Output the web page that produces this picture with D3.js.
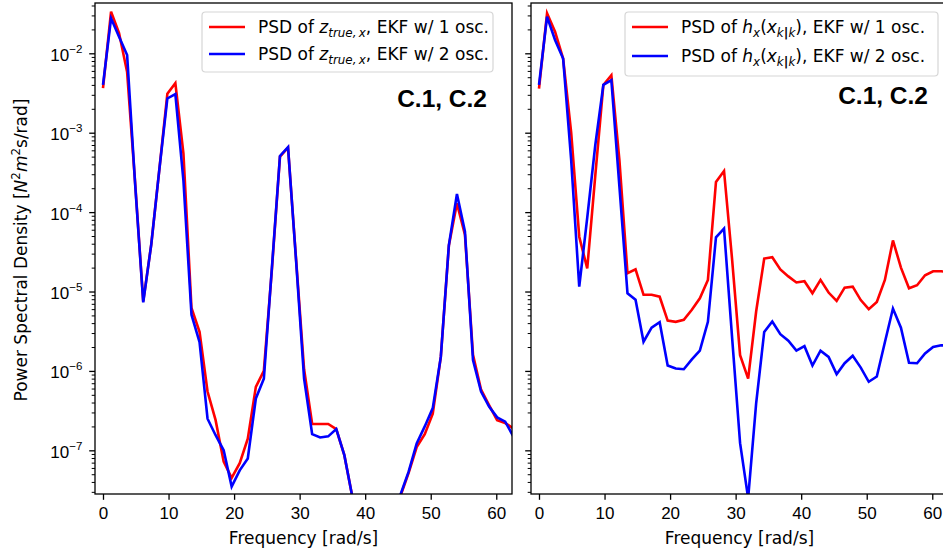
<!DOCTYPE html>
<html>
<head>
<meta charset="utf-8">
<script src="https://cdn.jsdelivr.net/npm/d3@7"></script>
<style>
  html, body { margin: 0; padding: 0; background: #fff; }
  svg { display: block; font-family: "DejaVu Sans", sans-serif; }
  text { fill: #000; }
</style>
</head>
<body>
<svg id="chart" width="943" height="556"></svg>
<script>
// Frequency grid of the Welch estimate [rad/s]
const freqs = [0, 1.23, 2.45, 3.68, 4.91, 6.14, 7.36, 8.59, 9.82, 11.04,
  12.27, 13.50, 14.73, 15.95, 17.18, 18.41, 19.63, 20.86, 22.09, 23.32,
  24.54, 25.77, 27.00, 28.23, 29.45, 30.68, 31.91, 33.13, 34.36, 35.59,
  36.82, 38.04, 39.27, 40.50, 41.72, 42.95, 44.18, 45.41, 46.63, 47.86,
  49.09, 50.31, 51.54, 52.77, 54.00, 55.22, 56.45, 57.68, 58.90, 60.13,
  61.36, 62.59];

// PSD of z_true,x — EKF with 1 oscillator
const zTrue1 = [3.65e-3, 3.34e-2, 1.8e-2, 5.8e-3, 2.3e-4, 7.5e-6, 3.9e-5, 3.4e-4, 3.1e-3, 4.2e-3,
  5.5e-4, 6.2e-6, 3.1e-6, 5.5e-7, 2.4e-7, 7.2e-8, 4.5e-8, 6.9e-8, 1.4e-7, 6.3e-7,
  1.0e-6, 1.9e-5, 5.0e-4, 6.5e-4, 2.6e-5, 1.05e-6, 2.15e-7, 2.15e-7, 2.15e-7, 1.85e-7,
  8.7e-8, 2.6e-8, 9e-9, 5e-9, 6e-9, 1.1e-8, 1.9e-8, 2.7e-8, 5.2e-8, 1.1e-7,
  1.6e-7, 2.9e-7, 1.5e-6, 3.8e-5, 1.29e-4, 5.2e-5, 1.6e-6, 5.8e-7, 3.7e-7, 2.4e-7,
  2.2e-7, 1.9e-7];

// PSD of z_true,x — EKF with 2 oscillators
const zTrue2 = [4.0e-3, 2.76e-2, 1.62e-2, 9.5e-3, 2.2e-4, 7.3e-6, 3.9e-5, 3.4e-4, 2.7e-3, 3.07e-3,
  2.5e-4, 5.1e-6, 2.3e-6, 2.5e-7, 1.55e-7, 1.0e-7, 3.5e-8, 5.6e-8, 7.9e-8, 4.5e-7,
  8.0e-7, 2.0e-5, 5.1e-4, 6.6e-4, 2.5e-5, 8.0e-7, 1.6e-7, 1.45e-7, 1.5e-7, 1.85e-7,
  8.7e-8, 2.6e-8, 8e-9, 5e-9, 6e-9, 1.0e-8, 1.8e-8, 2.8e-8, 5.4e-8, 1.22e-7,
  2.0e-7, 3.4e-7, 1.5e-6, 3.85e-5, 1.69e-4, 5.7e-5, 1.37e-6, 5.5e-7, 3.55e-7, 2.6e-7,
  2.3e-7, 1.5e-7];

// PSD of h_x(x_k|k) — EKF with 1 oscillator
const hx1 = [3.6e-3, 3.19e-2, 1.87e-2, 8.6e-3, 1.0e-3, 4.9e-5, 1.95e-5, 2.9e-4, 4.0e-3, 5.3e-3,
  4.5e-4, 1.7e-5, 1.9e-5, 9.1e-6, 9.1e-6, 8.6e-6, 4.3e-6, 4.15e-6, 4.4e-6, 5.9e-6,
  8.2e-6, 1.4e-5, 2.4e-4, 3.3e-4, 2.6e-5, 1.58e-6, 8.0e-7, 5.6e-6, 2.6e-5, 2.7e-5,
  1.9e-5, 1.55e-5, 1.3e-5, 1.35e-5, 9.5e-6, 1.4e-5, 9.7e-6, 7.6e-6, 1.12e-5, 1.15e-5,
  7.8e-6, 6.0e-6, 7.4e-6, 1.4e-5, 4.4e-5, 2.0e-5, 1.1e-5, 1.2e-5, 1.6e-5, 1.8e-5,
  1.8e-5, 1.75e-5];

// PSD of h_x(x_k|k) — EKF with 2 oscillators
const hx2 = [4.0e-3, 2.9e-2, 1.47e-2, 8.6e-3, 4.5e-4, 1.15e-5, 8.5e-5, 7.0e-4, 4.0e-3, 4.6e-3,
  2.1e-4, 9.5e-6, 7.9e-6, 2.33e-6, 3.5e-6, 4.1e-6, 1.17e-6, 1.07e-6, 1.05e-6, 1.4e-6,
  1.8e-6, 4.15e-6, 4.8e-5, 6.2e-5, 2.7e-6, 1.23e-7, 2.5e-8, 3.9e-7, 3.1e-6, 4.2e-6,
  2.9e-6, 2.4e-6, 1.8e-6, 2.05e-6, 1.17e-6, 1.8e-6, 1.5e-6, 9.1e-7, 1.25e-6, 1.55e-6,
  1.1e-6, 7.3e-7, 8.5e-7, 2.3e-6, 6.1e-6, 3.5e-6, 1.27e-6, 1.25e-6, 1.66e-6, 2.0e-6,
  2.1e-6, 2.1e-6];

const xTicks = [0, 10, 20, 30, 40, 50, 60];
const yDecades = [-7, -6, -5, -4, -3, -2];
const xDomain = [-1.22, 62.4];
const yDomain = [Math.pow(10, -7.55), Math.pow(10, -1.3665)];

const svg = d3.select("#chart");
const FS = 17;             // base font size in px
const TICK_MAJ = 5.8, TICK_MIN = 3.3, PAD = 5.8;

const panels = [
  { id: "left",  range: [95, 512], series: [zTrue1, zTrue2], showY: true,
    legend: { x: 202, y: 12, w: 291, h: 60, rowY: [27, 54] }, tag: { x: 487, y: 107 }, sym: "z" },
  { id: "right", range: [531, 948], series: [hx1, hx2], showY: false,
    legend: { x: 625, y: 12, w: 313, h: 64, rowY: [27, 56] }, tag: { x: 928, y: 104 }, sym: "h" }
];
const plotTop = 3, plotBottom = 494;
const colors = ["#ff0000", "#0000ff"];
const oscLabels = ["1 osc.", "2 osc."];

const y = d3.scaleLog().domain(yDomain).range([plotBottom, plotTop]);

panels.forEach((p) => {
  const x = d3.scaleLinear().domain(xDomain).range(p.range);
  const g = svg.append("g");

  const clipId = "clip-" + p.id;
  svg.append("clipPath").attr("id", clipId)
    .append("rect")
    .attr("x", p.range[0]).attr("y", plotTop)
    .attr("width", p.range[1] - p.range[0]).attr("height", plotBottom - plotTop);

  // data lines
  const line = d3.line().x((d, i) => x(freqs[i])).y(d => y(d));
  p.series.forEach((s, si) => {
    g.append("path")
      .datum(s)
      .attr("clip-path", `url(#${clipId})`)
      .attr("fill", "none")
      .attr("stroke", colors[si])
      .attr("stroke-width", 2.6)
      .attr("stroke-linejoin", "miter")
      .attr("d", line);
  });

  // frame
  g.append("rect")
    .attr("x", p.range[0]).attr("y", plotTop)
    .attr("width", p.range[1] - p.range[0]).attr("height", plotBottom - plotTop)
    .attr("fill", "none").attr("stroke", "#000").attr("stroke-width", 1.3);

  // x axis
  const xAxis = d3.axisBottom(x).tickValues(xTicks).tickSize(TICK_MAJ).tickPadding(PAD)
    .tickFormat(d3.format("d"));
  const xg = g.append("g").attr("transform", `translate(0,${plotBottom})`).call(xAxis);
  xg.select(".domain").remove();
  xg.selectAll(".tick line").attr("stroke", "#000").attr("stroke-width", 1.3);
  xg.selectAll(".tick text").attr("font-size", FS).attr("font-family", null)
    .attr("dy", "0.8em").attr("fill", "#000");

  // y axis: major and minor ticks on the log scale
  const minor = [];
  yDecades.concat([-8]).forEach(e => {
    for (let m = 2; m <= 9; m++) {
      const v = m * Math.pow(10, e);
      if (v >= yDomain[0] && v <= yDomain[1]) minor.push(v);
    }
  });
  const majors = yDecades.map(e => Math.pow(10, e));
  const yMinor = d3.axisLeft(y).tickValues(minor).tickSize(TICK_MIN).tickFormat("");
  const ymg = g.append("g").attr("transform", `translate(${p.range[0]},0)`).call(yMinor);
  ymg.select(".domain").remove();
  ymg.selectAll(".tick line").attr("stroke", "#000").attr("stroke-width", 1.0);

  const yMajor = d3.axisLeft(y).tickValues(majors).tickSize(TICK_MAJ).tickFormat("");
  const yg = g.append("g").attr("transform", `translate(${p.range[0]},0)`).call(yMajor);
  yg.select(".domain").remove();
  yg.selectAll(".tick line").attr("stroke", "#000").attr("stroke-width", 1.3);

  if (p.showY) {
    yg.selectAll(".tick").each(function (d) {
      const e = Math.round(Math.log10(d));
      const t = d3.select(this).append("text")
        .attr("x", -(TICK_MAJ + PAD + 1)).attr("y", 7)
        .attr("text-anchor", "end").attr("font-size", FS);
      t.append("tspan").text("10");
      t.append("tspan").attr("font-size", FS * 0.68).attr("dy", -8)
        .text("\u2212" + Math.abs(e));
    });
  }

  // x label
  g.append("text")
    .attr("x", (p.range[0] + p.range[1]) / 2)
    .attr("y", 544).attr("text-anchor", "middle").attr("font-size", FS)
    .text("Frequency [rad/s]");

  // legend
  const L = p.legend;
  const lg = g.append("g");
  lg.append("rect")
    .attr("x", L.x).attr("y", L.y).attr("width", L.w).attr("height", L.h)
    .attr("rx", 3.5).attr("fill", "#fff").attr("fill-opacity", 0.8)
    .attr("stroke", "#d6d6d6").attr("stroke-width", 1.2);
  L.rowY.forEach((ry, ri) => {
    lg.append("line")
      .attr("x1", L.x + 7).attr("x2", L.x + 43).attr("y1", ry).attr("y2", ry)
      .attr("stroke", colors[ri]).attr("stroke-width", 2.6);
    const t = lg.append("text").attr("x", L.x + 56).attr("y", ry + 6).attr("font-size", FS);
    t.append("tspan").text("PSD of ");
    if (p.sym === "z") {
      t.append("tspan").attr("font-style", "italic").text("z");
      t.append("tspan").attr("font-style", "italic").attr("font-size", FS * 0.7).attr("dy", 4)
        .text("true,\u2009x");
      t.append("tspan").attr("dy", -4).text(", EKF w/ " + oscLabels[ri]);
    } else {
      t.append("tspan").attr("font-style", "italic").text("h");
      t.append("tspan").attr("font-style", "italic").attr("font-size", FS * 0.7).attr("dy", 4).text("x");
      t.append("tspan").attr("dy", -4).text("(");
      t.append("tspan").attr("font-style", "italic").text("x");
      t.append("tspan").attr("font-style", "italic").attr("font-size", FS * 0.7).attr("dy", 4).text("k");
      t.append("tspan").attr("font-size", FS * 0.75).attr("font-weight", "bold").text("|");
      t.append("tspan").attr("font-style", "italic").attr("font-size", FS * 0.7).text("k");
      t.append("tspan").attr("dy", -4).text("), EKF w/ " + oscLabels[ri]);
    }
  });

  // case tag
  g.append("text")
    .attr("x", p.tag.x).attr("y", p.tag.y).attr("text-anchor", "end")
    .style("font-family", "'Liberation Sans', Arial, sans-serif")
    .attr("font-weight", "bold").attr("font-size", 24.5)
    .text("C.1, C.2");
});

// shared y label
const yl = svg.append("text")
  .attr("transform", `translate(27,250) rotate(-90)`)
  .attr("text-anchor", "middle").attr("font-size", FS);
yl.append("tspan").text("Power Spectral Density [");
yl.append("tspan").attr("font-style", "italic").text("N");
yl.append("tspan").attr("font-size", FS * 0.7).attr("dy", -7).text("2");
yl.append("tspan").attr("font-style", "italic").attr("dy", 7).text("m");
yl.append("tspan").attr("font-size", FS * 0.7).attr("dy", -7).text("2");
yl.append("tspan").attr("dy", 7).text("s/rad]");
</script>
</body>
</html>
